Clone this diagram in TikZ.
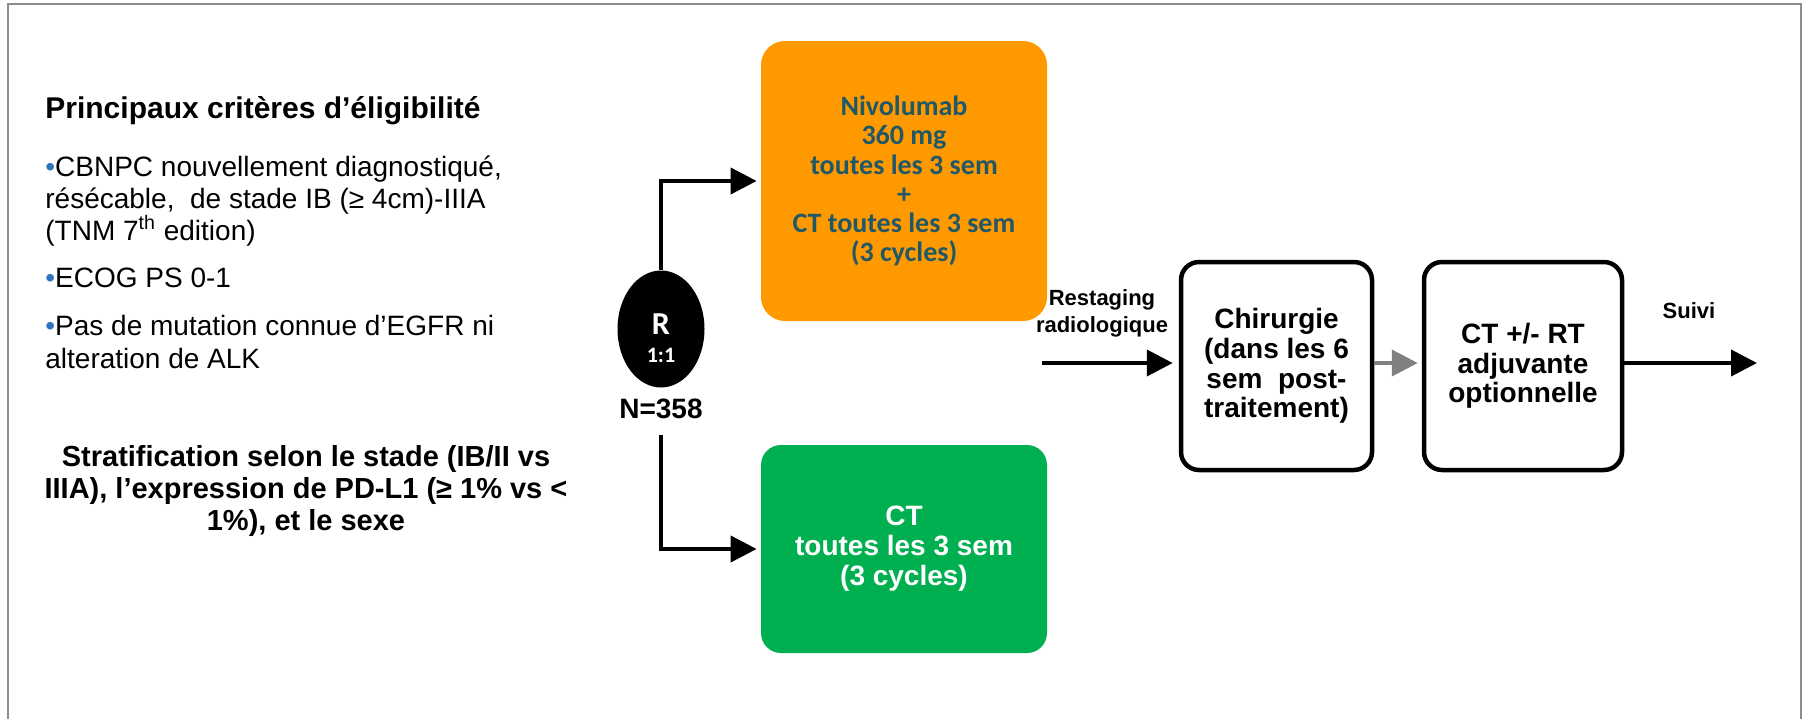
\documentclass[tikz,border=0pt]{standalone}
\usepackage{fontspec}
\setmainfont{Liberation Sans}
\newfontfamily\calibri{Carlito}
\usetikzlibrary{arrows.meta,shapes.geometric}

\definecolor{armorange}{HTML}{FF9900}
\definecolor{armgreen}{HTML}{00B050}
\definecolor{armteal}{HTML}{215868}
\definecolor{bulletblue}{HTML}{2E75C0}
\definecolor{framegray}{HTML}{8C8C8C}
\definecolor{arrowgray}{HTML}{808080}

\newcommand\critdot{\textcolor{bulletblue}{\char"2022}}

\begin{document}
\begin{tikzpicture}[x=0.5pt,y=-0.5pt,
  flow/.style={line width=2pt,-{Triangle[length=13pt,width=13pt]}},
  graylink/.style={flow, draw=arrowgray, arrowgray},
  armbox/.style={rounded corners=12pt, minimum width=143pt, inner sep=0pt, align=center},
  stepbox/.style={draw, line width=2.25pt, rounded corners=9pt, align=center, inner sep=0pt,
    minimum height=104pt, font=\bfseries\fontsize{14}{14.8}\selectfont},
  crit/.style={anchor=base west, inner sep=0pt, font=\fontsize{14}{16}\selectfont},
  small/.style={font=\bfseries\fontsize{11}{13.5}\selectfont, align=center, inner sep=0pt}
]
\useasboundingbox (0,0) rectangle (1805,718);
\clip (0,0) rectangle (1805,718);

% slide frame
\draw[framegray, line width=1pt] (8,730) -- (8,4) -- (1801,4) -- (1801,730);

% eligibility criteria
\node[anchor=base west, inner sep=0pt, font=\bfseries\fontsize{15}{16}\selectfont]
  (title) at (45,118) {Principaux critères d’éligibilité};
\node[crit] (c1a) at (45,176) {\critdot CBNPC nouvellement diagnostiqué,};
\node[crit] (c1b) at (45,208) {résécable,\ \ de stade IB (≥ 4cm)-IIIA};
\node[crit] (c1c) at (45,240) {(TNM 7\textsuperscript{th} edition)};
\node[crit] (c2)  at (45,287) {\critdot ECOG PS 0-1};
\node[crit] (c3a) at (45,335) {\critdot Pas de mutation connue d’EGFR ni};
\node[crit] (c3b) at (45,368) {alteration de ALK};

% stratification
\node[align=center, inner sep=0pt, font=\bfseries\fontsize{14.5}{16}\selectfont]
  (strat) at (306,491) {Stratification selon le stade (IB/II vs\\
  IIIA), l’expression de PD-L1 (≥ 1\% vs <\\ 1\%), et le sexe};

% randomisation
\node[ellipse, fill=black, minimum width=43.5pt, minimum height=58.5pt, inner sep=0pt]
  (rand) at (661,329) {};
\node[anchor=base, inner sep=0pt, text=white, font=\calibri\bfseries\fontsize{16}{16}\selectfont]
  (rlab) at (661,334) {R};
\node[anchor=base, inner sep=0pt, text=white, font=\calibri\bfseries\fontsize{11}{11}\selectfont]
  (ratio) at (661,362) {1:1};
\node[anchor=base, inner xsep=0pt, inner ysep=8pt, font=\bfseries\fontsize{14}{14}\selectfont]
  (npat) at (661,418) {N=358};

% treatment arms
\node[armbox, fill=armorange, minimum height=140pt, text=armteal,
  font=\calibri\bfseries\fontsize{14}{14.6}\selectfont] (nivo) at (904,181)
  {Nivolumab\\ 360 mg\\ toutes les 3 sem\\ +\\ CT toutes les 3 sem\\ (3 cycles)};
\node[armbox, fill=armgreen, rounded corners=10pt, minimum height=104pt, text=white,
  font=\bfseries\fontsize{14}{15}\selectfont] (chemo) at (904,549)
  {CT\\ toutes les 3 sem\\ (3 cycles)};

\draw[flow, shorten >=2pt] (rand.north) |- (nivo.west);
\draw[flow, shorten >=2pt] (npat.south) |- (chemo.west);

% surgery and adjuvant steps
\node[stepbox, minimum width=95.5pt] (surg) at (1276.5,366)
  {Chirurgie\\ (dans les 6\\ sem\ \ post-\\ traitement)};
\node[stepbox, minimum width=99pt] (adj) at (1523,366)
  {CT +/- RT\\ adjuvante\\ optionnelle};

\coordinate (rin) at (1042,363);
\coordinate (fin) at (1757,363);
\draw[flow, shorten >=3pt] (rin) -- (rin -| surg.west);
\draw[graylink, shorten >=2pt] (rin -| surg.east) -- (rin -| adj.west);
\draw[flow] (rin -| adj.east) -- (fin);

\node[small] (restage) at (1102,313) {Restaging\\ radiologique};
\node[small, anchor=base] (follow) at (1689,318) {Suivi};
\end{tikzpicture}
\end{document}
